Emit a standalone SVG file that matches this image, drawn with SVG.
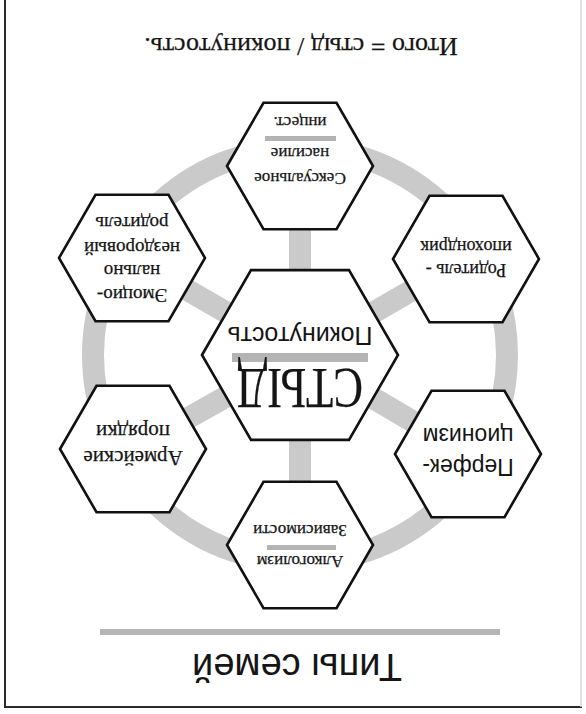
<svg xmlns="http://www.w3.org/2000/svg" width="586" height="714" viewBox="0 0 586 714">
  <style>
    .ring { fill: none; stroke: #cacaca; stroke-width: 22; }
    .spoke { stroke: #cacaca; stroke-width: 22; }
    .hex { fill: #ffffff; stroke: #111111; stroke-width: 2.6; stroke-linejoin: miter; }
    .bar { fill: #b4b4b4; }
    .serif { font-family: "Liberation Serif", "Times New Roman", serif; fill: #151515; stroke: #151515; stroke-width: 0.25; }
    .sans { font-family: "Liberation Sans", Arial, sans-serif; fill: #151515; }
    text { text-anchor: middle; dominant-baseline: central; }
  </style>

  <!-- sheet frame -->
  <rect x="0" y="0" width="586" height="714" fill="#ffffff"/>
  <line x1="5" y1="0" x2="5" y2="707" stroke="#2a2a2a" stroke-width="2"/>
  <line x1="4" y1="707" x2="582" y2="707" stroke="#2a2a2a" stroke-width="2"/>
  <line x1="581" y1="0" x2="581" y2="707" stroke="#d8d8d8" stroke-width="1.5"/>

  <!-- the whole sheet is printed rotated by 180 degrees -->
  <g id="title">
    <text class="serif" x="301" y="46" font-size="26" transform="rotate(180 301 46)">Итого = стыд / покинутость.</text>
  </g>

  <!-- ring and spokes -->
  <g id="connectors">
    <circle class="ring" cx="300" cy="355" r="207"/>
    <line class="spoke" x1="300" y1="355" x2="300" y2="166"/>
    <line class="spoke" x1="300" y1="355" x2="466" y2="259"/>
    <line class="spoke" x1="300" y1="355" x2="468" y2="454"/>
    <line class="spoke" x1="300" y1="355" x2="300" y2="545"/>
    <line class="spoke" x1="300" y1="355" x2="133" y2="449"/>
    <line class="spoke" x1="300" y1="355" x2="132" y2="258"/>
  </g>

  <g id="center">
    <polygon class="hex" points="202,355 251,270.1 349,270.1 398,355 349,439.9 251,439.9"/>
    <rect class="bar" x="232" y="353" width="136" height="9"/>
    <text class="sans" x="300" y="336" font-size="25" transform="rotate(180 300 336)">Покинутость</text>
    <text class="serif" x="300" y="388" font-size="56" textLength="126" lengthAdjust="spacingAndGlyphs" transform="rotate(180 300 388)">СТЫД</text>
  </g>

  <g id="node-sexual">
    <polygon class="hex" points="227,166 263.5,102.8 336.5,102.8 373,166 336.5,229.2 263.5,229.2"/>
    <rect class="bar" x="265" y="136" width="71" height="5"/>
    <text class="serif" x="300" y="122" font-size="17" transform="rotate(180 300 122)">инцест.</text>
    <text class="serif" x="300" y="153" font-size="17" transform="rotate(180 300 153)">насилие</text>
    <text class="serif" x="300" y="178" font-size="17" transform="rotate(180 300 178)">Сексуальное</text>
  </g>

  <g id="node-hypochondriac">
    <polygon class="hex" points="393,259 429.5,195.8 502.5,195.8 539,259 502.5,322.2 429.5,322.2"/>
    <text class="serif" x="466" y="247" font-size="18" transform="rotate(180 466 247)">ипохондрик</text>
    <text class="serif" x="466" y="270" font-size="18" transform="rotate(180 466 270)">Родитель -</text>
  </g>

  <g id="node-perfectionism">
    <polygon class="hex" points="395,454 431.5,390.8 504.5,390.8 541,454 504.5,517.2 431.5,517.2"/>
    <text class="sans" x="468" y="436" font-size="23" transform="rotate(180 468 436)">ционизм</text>
    <text class="sans" x="468" y="467" font-size="23" transform="rotate(180 468 467)">Перфек-</text>
  </g>

  <g id="node-alcohol">
    <polygon class="hex" points="227,545 263.5,481.8 336.5,481.8 373,545 336.5,608.2 263.5,608.2"/>
    <text class="serif" x="300" y="530" font-size="17" transform="rotate(180 300 530)">Зависимости</text>
    <rect class="bar" x="267" y="545" width="69" height="5"/>
    <text class="serif" x="300" y="561" font-size="17" transform="rotate(180 300 561)">Алкоголизм</text>
  </g>

  <g id="node-army">
    <polygon class="hex" points="60,449 96.5,385.8 169.5,385.8 206,449 169.5,512.2 96.5,512.2"/>
    <text class="serif" x="133" y="432" font-size="21" transform="rotate(180 133 432)">порядки</text>
    <text class="serif" x="133" y="458" font-size="21" transform="rotate(180 133 458)">Армейские</text>
  </g>

  <g id="node-emotional">
    <polygon class="hex" points="59,258 95.5,194.8 168.5,194.8 205,258 168.5,321.2 95.5,321.2"/>
    <text class="serif" x="132" y="223" font-size="19" transform="rotate(180 132 223)">родитель</text>
    <text class="serif" x="132" y="248" font-size="19" transform="rotate(180 132 248)">нездоровый</text>
    <text class="serif" x="132" y="271" font-size="19" transform="rotate(180 132 271)">нально</text>
    <text class="serif" x="132" y="295" font-size="19" transform="rotate(180 132 295)">Эмоцио-</text>
  </g>

  <g id="caption">
    <rect class="bar" x="100" y="629" width="400" height="6"/>
    <text class="sans" x="297" y="667" font-size="38" transform="rotate(180 297 667)">Типы семей</text>
  </g>
</svg>
